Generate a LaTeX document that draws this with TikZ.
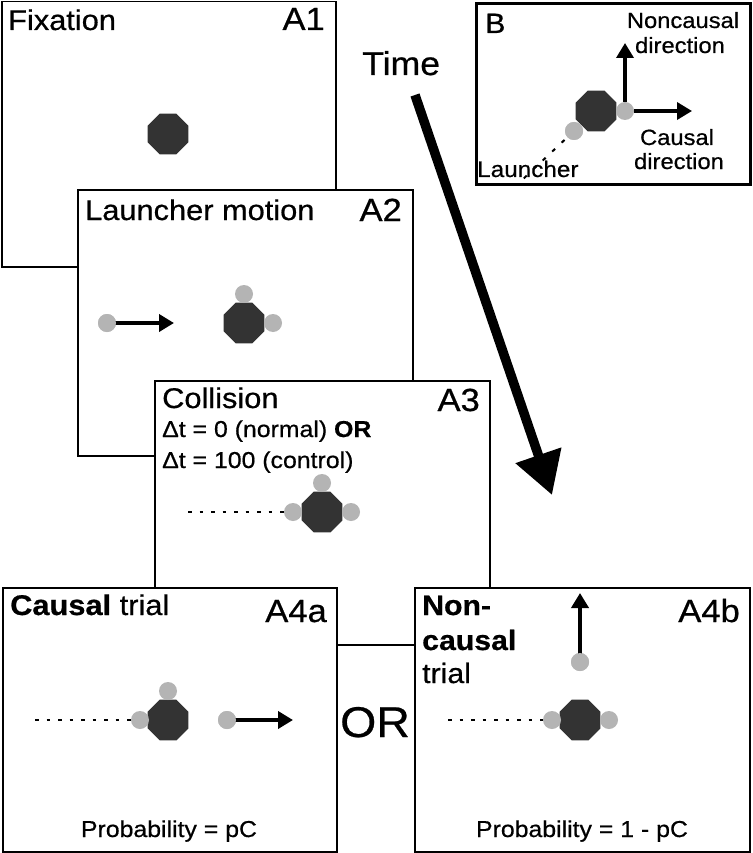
\documentclass[tikz,border=0pt]{standalone}
\usepackage{fontspec}
\setmainfont{Liberation Sans}[FakeStretch=1.08, FakeBold=0.6]
\usetikzlibrary{arrows.meta,shapes.geometric}
\definecolor{octc}{HTML}{333333}
\definecolor{ballc}{HTML}{B4B4B4}
\newcommand\fsz[1]{\fontsize{#1pt}{#1pt}\selectfont}
\begin{document}
\begin{tikzpicture}[x=1pt,y=-1pt,
  panel/.style={draw=black, line width=1.5pt, fill=white, anchor=north west, inner sep=0pt},
  oct/.style={regular polygon, regular polygon sides=8, fill=octc, minimum size=44pt, inner sep=0pt},
  ball/.style={circle, fill=ballc, minimum size=18pt, inner sep=0pt},
  mv/.style={line width=4pt, -{Triangle[length=15pt,width=17pt]}},
  dots/.style={line width=2pt, dash pattern=on 3.5pt off 8pt},
  txt/.style={inner sep=0pt, anchor=base west},
  txtr/.style={inner sep=0pt, anchor=base east},
  txtc/.style={inner sep=0pt, anchor=base},
  ttl/.style={txt, font=\fsz{28.5}},
  lab/.style={txtr, font=\fsz{32}}]
\useasboundingbox[fill=white] (0,0) rectangle (752,853);

% ---- A1
\node[panel, minimum width=334pt, minimum height=265pt] (A1) at (1,1) {};
\node[ttl] (t1) at (8,30) {Fixation};
\node[lab] (l1) at (325,30) {A1};
\node[oct] (o1) at (168,134) {};

% ---- A2
\node[panel, minimum width=335pt, minimum height=266pt] (A2) at (77,189) {};
\node[ttl] (t2) at (85,220) {Launcher motion};
\node[lab] (l2) at (402,221) {A2};
\node[oct] (o2) at (244,323) {};
\node[ball] (b2t) at (244,294) {};
\node[ball] (b2r) at (273,323) {};
\node[ball] (b2l) at (107,323) {};
\coordinate (e2) at (174,323);
\draw[mv] (b2l.center) -- (e2);
\node[ball] at (107,323) {};

% ---- A3
\node[panel, minimum width=335pt, minimum height=264pt] (A3) at (154,380) {};
\node[ttl] (t3) at (162,408) {Collision};
\node[lab] (l3) at (480,411) {A3};
\node[txt, font=\fsz{23}] (d1) at (162,437) {Δt = 0 (normal) \textbf{OR}};
\node[txt, font=\fsz{23}] (d2) at (162,468) {Δt = 100 (control)};
\coordinate (s3) at (188,512);
\node[oct] (o3) at (322,512) {};
\node[ball] (b3t) at (322,483) {};
\node[ball] (b3r) at (351,512) {};
\node[ball] (b3l) at (293,512) {};
\draw[dots] (s3) -- (b3l.west);

% ---- A4a
\node[panel, minimum width=334pt, minimum height=264pt] (A4a) at (2,587) {};
\node[txt, font=\fsz{28.5}] (t4a) at (10,615) {\textbf{Causal} trial};
\node[lab] (l4a) at (327,622) {A4a};
\coordinate (s4a) at (35,720);
\node[oct] (o4a) at (168,720) {};
\node[ball] (b4at) at (168,691) {};
\node[ball] (b4al) at (140,720) {};
\node[ball] (b4am) at (227,720) {};
\coordinate (e4a) at (293,720);
\draw[dots] (s4a) -- (b4al.west);
\draw[mv] (b4am.center) -- (e4a);
\node[ball] at (227,720) {};
\node[txtc, font=\fsz{23}] (p4a) at (169,837) {Probability = pC};

% ---- A4b
\node[panel, minimum width=335pt, minimum height=264pt] (A4b) at (414,587) {};
\node[txt, font=\fsz{28}] (t4b1) at (422,615) {\textbf{Non-}};
\node[txt, font=\fsz{28}] (t4b2) at (422,650) {\textbf{causal}};
\node[txt, font=\fsz{28}] (t4b3) at (422,683) {trial};
\node[lab] (l4b) at (740,622) {A4b};
\coordinate (s4b) at (448,720);
\node[oct] (o4b) at (580,720) {};
\node[ball] (b4bl) at (552,720) {};
\node[ball] (b4br) at (609,720) {};
\node[ball] (b4bu) at (580,662) {};
\coordinate (e4b) at (580,593);
\draw[dots] (s4b) -- (b4bl.west);
\draw[mv] (b4bu.center) -- (e4b);
\node[ball] at (580,662) {};
\node[txtc, font=\fsz{23}] (p4b) at (582,837) {Probability = 1 - pC};

% ---- OR
\node[txt, font=\fsz{43}] (or) at (340,737) {OR};

% ---- Time arrow
\node[txt, font=\fsz{33}] (time) at (362,75) {Time};
\coordinate (ts) at (415,95);
\coordinate (te) at (552,495);
\draw[line width=9.5pt, -{Triangle[length=42pt,width=46pt]}] (ts) -- (te);

% ---- B
\node[panel, line width=3pt, minimum width=274pt, minimum height=181pt] (B) at (475,2) {};
\node[txt, font=\fsz{28}] (tb) at (485,33) {B};
\node[txtc, font=\fsz{22}] (nc1) at (683,28) {Noncausal};
\node[txtc, font=\fsz{22}] (nc2) at (680,53) {direction};
\node[txtc, font=\fsz{22}] (cd1) at (677,145) {Causal};
\node[txtc, font=\fsz{22}] (cd2) at (679,169) {direction};
\coordinate (sb) at (521,181);
\node[ball] (bbl) at (574,131) {};
\draw[dots, dash pattern=on 4pt off 9pt] (bbl.center) -- (sb);
\node[ball] at (574,131) {};
\node[txt, font=\fsz{22.5}] (lb) at (477,177) {Launcher};
\node[oct] (ob) at (596,111) {};
\node[ball] (bbr) at (625,111) {};
\coordinate (eu) at (625,43);
\coordinate (er) at (692,111);
\draw[mv, line width=3.5pt] (bbr.north) -- (eu);
\draw[mv, line width=3.5pt] (bbr.east) -- (er);
\end{tikzpicture}
\end{document}
